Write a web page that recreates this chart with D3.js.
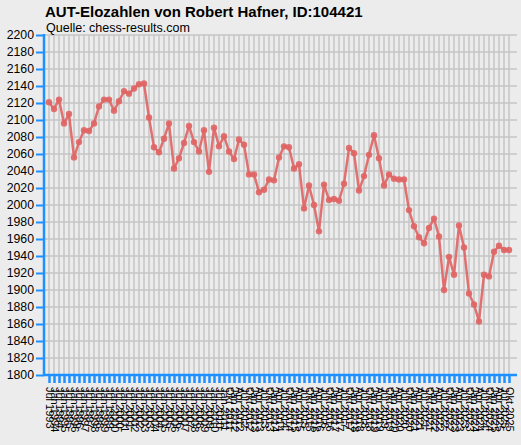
<!DOCTYPE html>
<html>
<head>
<meta charset="utf-8">
<script src="https://cdn.jsdelivr.net/npm/d3@7"></script>
<style>
  html, body { margin: 0; padding: 0; background: #ececec; }
  svg { display: block; }
  text { font-family: "Liberation Sans", Arial, sans-serif; }
</style>
</head>
<body>
<div id="chart"></div>
<script>
// ---- data ----
const titleText = "AUT-Elozahlen von Robert Hafner, ID:104421";
const subtitleText = "Quelle: chess-results.com";

// rating periods (half-yearly, later quarterly)
const halfYearPeriods = ["Jul 1993"];
for (let y = 1994; y <= 2010; y++) { halfYearPeriods.push("Jan " + y, "Jul " + y); }
halfYearPeriods.push("Jan 2011");
const quarterPeriods = ["Okt 2011"];
for (let y = 2012; y <= 2025; y++) { quarterPeriods.push("Jan " + y, "Apr " + y, "Jul " + y, "Okt " + y); }
const periods = halfYearPeriods.concat(quarterPeriods);

const ratings = [
  2121, 2113, 2124, 2096, 2107, 2056, 2074, 2088, 2087, 2096,
  2116, 2124, 2124, 2111, 2122, 2134, 2131, 2137, 2142, 2143,
  2103, 2068, 2062, 2078, 2096, 2043, 2055, 2073, 2093, 2074,
  2063, 2088, 2039, 2091, 2069, 2081, 2063, 2054, 2077, 2071,
  2036, 2036, 2015, 2018, 2030, 2029, 2056, 2069, 2068, 2043,
  2048, 1996, 2023, 2000, 1969, 2024, 2006, 2007, 2005, 2025,
  2067, 2061, 2017, 2034, 2059, 2082, 2055, 2023, 2036, 2031,
  2030, 2030, 1994, 1975, 1962, 1955, 1973, 1984, 1963, 1900,
  1939, 1918, 1976, 1950, 1896, 1883, 1863, 1918, 1916, 1945,
  1952, 1947, 1947
];

const yTicks = d3.range(1800, 2201, 20);

// ---- layout ----
const W = 521, H = 445;
const plot = { left: 44, right: 517, top: 35, bottom: 375 };
const axisColor = "#1e90ff";
const gridColor = "#c6c6c6";
const lineColor = "#e06464";

const data = periods.map((p, i) => ({ p, v: ratings[i] }));

const svg = d3.select("#chart").append("svg")
  .attr("width", W).attr("height", H);

svg.append("rect").attr("width", W).attr("height", H).attr("fill", "#ececec");

const x = d3.scalePoint().domain(periods).range([49, 509]);
const y = d3.scaleLinear().domain([1800, 2200]).range([plot.bottom, plot.top]);

// grid
const grid = svg.append("g");
grid.selectAll("line.h").data(yTicks).join("line")
  .attr("x1", plot.left).attr("x2", plot.right)
  .attr("y1", d => y(d)).attr("y2", d => y(d))
  .attr("stroke", gridColor).attr("stroke-width", 1.5);
grid.selectAll("line.v").data(periods).join("line")
  .attr("x1", d => x(d)).attr("x2", d => x(d))
  .attr("y1", plot.top).attr("y2", plot.bottom)
  .attr("stroke", gridColor).attr("stroke-width", 1.5);

// title
svg.append("text").attr("x", 45).attr("y", 17)
  .attr("font-size", 15).attr("font-weight", "bold").attr("fill", "#000")
  .text(titleText);
svg.append("text").attr("x", 46).attr("y", 32)
  .attr("font-size", 12.5).attr("fill", "#000")
  .text(subtitleText);

// y axis
const yAxis = svg.append("g").attr("transform", `translate(${plot.left},0)`)
  .call(d3.axisLeft(y).tickValues(yTicks).tickSize(8).tickPadding(2).tickFormat(d3.format("d")));
yAxis.select(".domain").attr("stroke", axisColor).attr("stroke-width", 2.5)
  .attr("d", `M0,${plot.top - 1}V${plot.bottom + 1}`);
yAxis.selectAll(".tick line").attr("stroke", axisColor).attr("stroke-width", 2);
yAxis.selectAll(".tick text").attr("font-size", 12.3).attr("fill", "#000")
  .attr("font-family", "Liberation Sans, Arial, sans-serif");

// x axis
const xAxis = svg.append("g").attr("transform", `translate(0,${plot.bottom})`)
  .call(d3.axisBottom(x).tickSize(8).tickPadding(2));
xAxis.select(".domain").attr("stroke", axisColor).attr("stroke-width", 2.5)
  .attr("d", `M${plot.left - 1},0H${plot.right}`);
xAxis.selectAll(".tick line").attr("stroke", axisColor).attr("stroke-width", 2.5);
xAxis.selectAll(".tick text")
  .attr("font-size", 11).attr("fill", "#000")
  .attr("font-family", "Liberation Sans, Arial, sans-serif")
  .attr("transform", "rotate(90)")
  .attr("text-anchor", "start")
  .attr("x", 12).attr("y", 0).attr("dy", "0.35em");

// line + points
const line = d3.line().x(d => x(d.p)).y(d => y(d.v));
svg.append("path").datum(data)
  .attr("fill", "none").attr("stroke", lineColor).attr("stroke-width", 2.5)
  .attr("stroke-opacity", 0.9).attr("stroke-linejoin", "round")
  .attr("d", line);
svg.append("g").selectAll("circle").data(data).join("circle")
  .attr("cx", d => x(d.p)).attr("cy", d => y(d.v)).attr("r", 3.2)
  .attr("fill", lineColor).attr("fill-opacity", 0.9);
</script>
</body>
</html>
